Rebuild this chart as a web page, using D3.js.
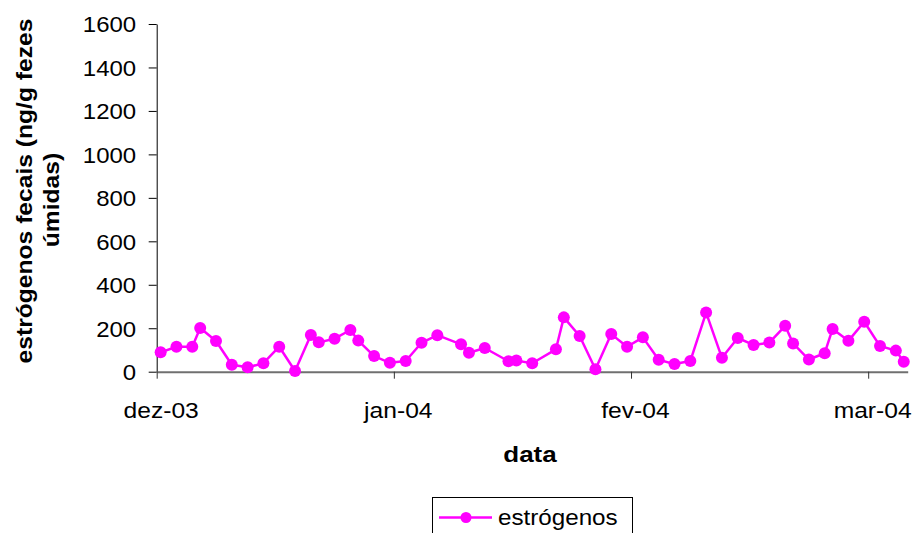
<!DOCTYPE html>
<html>
<head>
<meta charset="utf-8">
<script src="https://cdn.jsdelivr.net/npm/d3@7"></script>
<style>
  body { margin: 0; background: #fff; }
  svg { display: block; }
  text { font-family: "Liberation Sans", Arial, sans-serif; fill: #000; }
</style>
</head>
<body>
<svg id="chart" width="912" height="533"></svg>
<script>
// Sampling dates (faecal collections) and measured faecal estrogens
const sampleDates = [
  "2003-12-03","2003-12-05","2003-12-07","2003-12-08","2003-12-10","2003-12-12",
  "2003-12-14","2003-12-16","2003-12-18","2003-12-20","2003-12-22","2003-12-23",
  "2003-12-25","2003-12-27","2003-12-28","2003-12-30","2004-01-01","2004-01-03",
  "2004-01-05","2004-01-07","2004-01-10","2004-01-11","2004-01-13","2004-01-16",
  "2004-01-17","2004-01-19","2004-01-22","2004-01-23","2004-01-25","2004-01-27",
  "2004-01-29","2004-01-31","2004-02-02","2004-02-04","2004-02-06","2004-02-08",
  "2004-02-10","2004-02-12","2004-02-14","2004-02-16","2004-02-18","2004-02-20",
  "2004-02-21","2004-02-23","2004-02-25","2004-02-26","2004-02-28","2004-03-01",
  "2004-03-03","2004-03-05","2004-03-06"
];
const estrogenValues = [
  89, 115, 115, 201, 141, 32, 20, 39, 115, 3, 169, 135,
  152, 192, 143, 72, 41, 49, 133, 168, 126, 87, 109, 48,
  51, 39, 103, 250, 164, 11, 173, 115, 158, 55, 35, 49,
  272, 64, 155, 123, 134, 211, 130, 56, 85, 197, 142, 230,
  118, 97, 46
];
const yTicks = [0, 200, 400, 600, 800, 1000, 1200, 1400, 1600];
const shortMonthsPt = ["jan","fev","mar","abr","mai","jun","jul","ago","set","out","nov","dez"];
const seriesName = "estrógenos";
const xTitle = "data";
const yTitleLines = ["estrógenos fecais (ng/g fezes", "úmidas)"];

const MAGENTA = "#ff00ff";
const svg = d3.select("#chart");

const parse = d3.utcParse("%Y-%m-%d");
const points = sampleDates.map((d, i) => ({ date: parse(d), value: estrogenValues[i] }));

// Day-based time axis: each sample sits in the middle of its day,
// major ticks every 30 days from the first collection.
const start = points[0].date;
const end = d3.utcDay.offset(points[points.length - 1].date, 1);
const x = d3.scaleUtc().domain([start, end]).range([156.7, 907.7]);
const y = d3.scaleLinear().domain([0, 1600]).range([371.7, 24]);
const mid = d => d3.utcHour.offset(d, 12);
const halfDay = x(mid(start)) - x(start);

const ptLocale = d3.timeFormatLocale({
  dateTime: "%d/%m/%Y %H:%M:%S", date: "%d/%m/%Y", time: "%H:%M:%S",
  periods: ["AM", "PM"],
  days: ["domingo","segunda","terça","quarta","quinta","sexta","sábado"],
  shortDays: ["dom","seg","ter","qua","qui","sex","sáb"],
  months: ["janeiro","fevereiro","março","abril","maio","junho","julho","agosto","setembro","outubro","novembro","dezembro"],
  shortMonths: shortMonthsPt
});
const monthFmt = ptLocale.utcFormat("%b-%y");
const xTickValues = d3.range(0, 4).map(k => d3.utcDay.offset(start, 30 * k));

// Y axis
const gy = svg.append("g").attr("transform", "translate(156.7,0)")
  .call(d3.axisLeft(y).tickValues(yTicks).tickSizeInner(8).tickSizeOuter(0).tickFormat(d3.format("d")));
gy.select(".domain").attr("stroke", "#000").attr("stroke-width", 1);
gy.selectAll(".tick line").attr("stroke", "#000");
gy.selectAll(".tick text")
  .attr("x", 0).attr("dy", "0.36em")
  .attr("transform", "translate(-20.5,0) scale(1.09,1)")
  .style("font-size", "22px");

// X axis
const gx = svg.append("g").attr("transform", "translate(0,371.7)")
  .call(d3.axisBottom(x).tickValues(xTickValues).tickSizeInner(7).tickSizeOuter(0).tickFormat(monthFmt));
gx.select(".domain").attr("stroke", "#707070").attr("stroke-width", 2);
gx.selectAll(".tick line").attr("stroke", "#333");
gx.selectAll(".tick text")
  .attr("y", 0).attr("dy", 0)
  .attr("transform", `translate(${halfDay},46.5) scale(1.12,1)`)
  .style("font-size", "22px");

// Series
const line = d3.line().x(d => x(mid(d.date))).y(d => y(d.value));
svg.append("path").datum(points)
  .attr("fill", "none").attr("stroke", MAGENTA).attr("stroke-width", 2.5)
  .attr("stroke-linejoin", "round").attr("d", line);
svg.append("g").selectAll("circle").data(points).join("circle")
  .attr("cx", d => x(mid(d.date))).attr("cy", d => y(d.value))
  .attr("r", 6).attr("fill", MAGENTA);

// Axis titles
svg.append("text")
  .attr("transform", "translate(530,461.5) scale(1.18,1)")
  .attr("text-anchor", "middle")
  .style("font-size", "22px").style("font-weight", "bold")
  .text(xTitle);

const yTitleAnchors = [[32, 191], [59, 200]];
yTitleLines.forEach((t, i) => {
  svg.append("text")
    .attr("transform", `translate(${yTitleAnchors[i][0]},${yTitleAnchors[i][1]}) rotate(-90) scale(1.12,1)`)
    .attr("text-anchor", "middle")
    .style("font-size", "22px").style("font-weight", "bold")
    .text(t);
});

// Legend
const lg = svg.append("g");
lg.append("rect").attr("x", 432.5).attr("y", 497.5).attr("width", 200).attr("height", 45)
  .attr("fill", "#fff").attr("stroke", "#000").attr("stroke-width", 1);
lg.append("line").attr("x1", 439).attr("x2", 492).attr("y1", 517.5).attr("y2", 517.5)
  .attr("stroke", MAGENTA).attr("stroke-width", 2.5);
lg.append("circle").attr("cx", 466).attr("cy", 517.5).attr("r", 5.5).attr("fill", MAGENTA);
lg.append("text").attr("transform", "translate(498,525) scale(1.1,1)")
  .style("font-size", "22px").text(seriesName);
</script>
</body>
</html>
